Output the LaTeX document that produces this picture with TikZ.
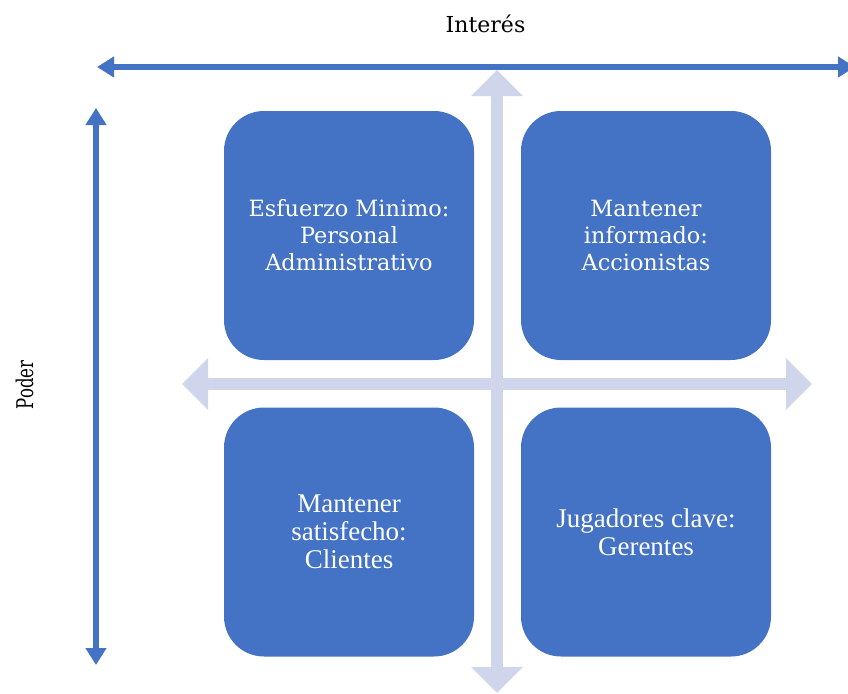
\documentclass[tikz,border=0pt]{standalone}
\usepackage{fontspec}
\usepackage{graphicx}
\setmainfont{Liberation Serif}
\newfontfamily\cambriaish{DejaVu Serif}
\usetikzlibrary{arrows.meta}

\definecolor{quadblue}{HTML}{4472C4}
\definecolor{crossgray}{HTML}{CFD5EA}

\begin{document}
\begin{tikzpicture}[
  x=1pt, y=-1pt,
  quadrant/.style={fill=quadblue, rounded corners=40pt, minimum width=250pt,
    minimum height=249pt, inner sep=0pt, text=white, align=center},
  upperfont/.style={font=\cambriaish\fontsize{22.4}{27}\selectfont},
  lowerfont/.style={font=\fontsize{27}{28}\selectfont},
  crossarrow/.style={draw=crossgray, line width=12pt,
    {Triangle[width=50pt,length=26pt]}-{Triangle[width=50pt,length=26pt]}},
  axisarrow/.style={draw=quadblue, line width=6pt,
    {Triangle[width=20pt,length=17pt]}-{Triangle[width=20pt,length=17pt]}}]
  \useasboundingbox (0,0) rectangle (848,693);

  % light cross behind the quadrants
  \coordinate (crossW) at (182,384);
  \coordinate (crossE) at (812,384);
  \coordinate (crossN) at (497,70);
  \coordinate (crossS) at (497,693);
  \draw[crossarrow] (crossW) -- (crossE);
  \draw[crossarrow] (crossN) -- (crossS);

  % quadrants
  \node[quadrant, upperfont] (minimo) at (349,235.5)
    {Esfuerzo Minimo:\\Personal\\Administrativo};
  \node[quadrant, upperfont] (informado) at (646,235.5)
    {Mantener\\informado:\\Accionistas};
  \node[quadrant, lowerfont] (satisfecho) at (349,532)
    {Mantener\\satisfecho:\\Clientes};
  \node[quadrant, lowerfont] (clave) at (646,532)
    {Jugadores clave:\\Gerentes};

  % axes
  \coordinate (interesW) at (97,67);
  \coordinate (interesE) at (855,67);
  \coordinate (poderN) at (96,108);
  \coordinate (poderS) at (96,665);
  \draw[axisarrow] (interesW) -- (interesE);
  \draw[axisarrow] (poderN) -- (poderS);

  \node[anchor=base, font=\cambriaish\fontsize{22}{26}\selectfont] (interes)
    at (485.5,33) {Interés};
  \node[anchor=base, rotate=90, font=\cambriaish\fontsize{23}{26}\selectfont] (poder)
    at (33,385) {\scalebox{0.72}[1]{Poder}};
\end{tikzpicture}
\end{document}
